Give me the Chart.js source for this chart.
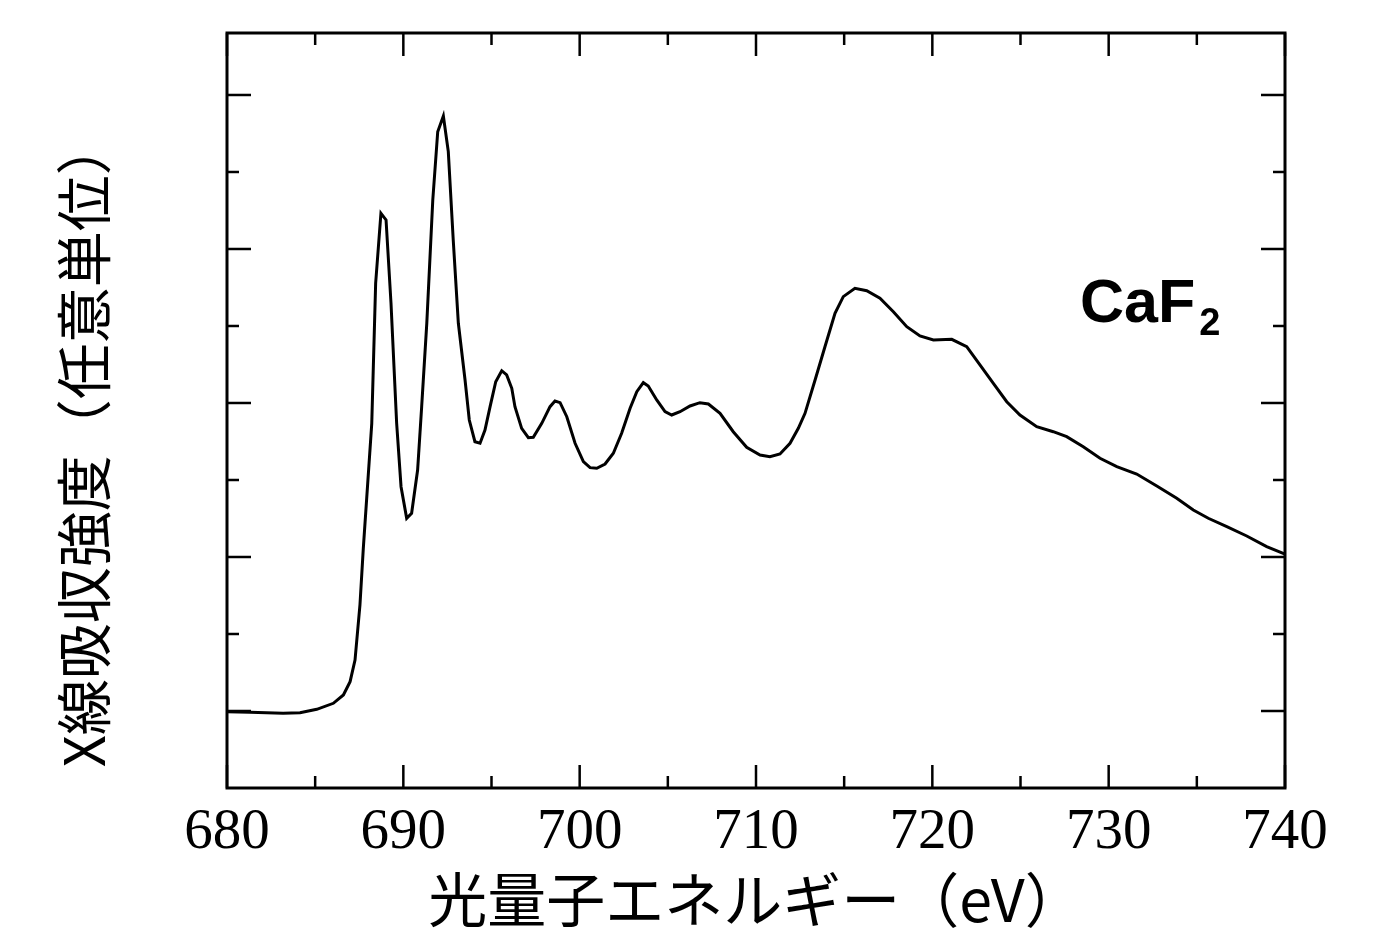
<!DOCTYPE html>
<html>
<head>
<meta charset="utf-8">
<script src="https://cdn.jsdelivr.net/npm/chart.js@4.4.1/dist/chart.umd.min.js"></script>
<style>
  html, body { margin: 0; padding: 0; background: #fff; }
  #wrap { width: 1387px; height: 935px; position: relative; }
</style>
</head>
<body>
<div id="wrap"><canvas id="c" width="1387" height="935"></canvas></div>
<script>
// Photon energy (eV)
const energy = [
  680.00, 681.30, 683.18, 684.14, 685.09, 686.03, 686.60, 686.98, 687.26, 687.54,
  687.73, 688.21, 688.43, 688.73, 689.02, 689.30, 689.62, 689.87, 690.19, 690.47,
  690.81, 691.04, 691.33, 691.67, 691.95, 692.27, 692.55, 692.83, 693.12, 693.50,
  693.74, 694.06, 694.35, 694.63, 694.92, 695.24, 695.58, 695.86, 696.15, 696.33,
  696.71, 697.09, 697.37, 697.85, 698.32, 698.60, 698.89, 699.27, 699.74, 700.21,
  700.59, 700.97, 701.44, 701.91, 702.38, 702.86, 703.24, 703.61, 703.89, 704.37,
  704.84, 705.22, 705.69, 706.26, 706.82, 707.30, 707.96, 708.71, 709.47, 710.23,
  710.79, 711.36, 711.93, 712.40, 712.78, 713.35, 713.91, 714.48, 714.95, 715.61,
  716.28, 717.03, 717.79, 718.55, 719.30, 720.06, 721.10, 721.95, 722.70, 723.46,
  724.22, 724.97, 725.92, 726.86, 727.62, 728.56, 729.51, 730.46, 731.59, 732.73,
  733.86, 734.80, 735.65, 736.70, 737.83, 738.96, 740.00
];
// X-ray absorption intensity (arbitrary units)
const intensity = [
  0.991, 0.983, 0.970, 0.978, 1.022, 1.100, 1.208, 1.381, 1.662, 2.377,
  3.113, 4.736, 6.555, 7.464, 7.377, 6.299, 4.740, 3.913, 3.503, 3.568,
  4.130, 4.952, 6.035, 7.636, 8.523, 8.727, 8.264, 7.117, 6.035, 5.299,
  4.779, 4.497, 4.477, 4.649, 4.952, 5.277, 5.419, 5.364, 5.191, 4.952,
  4.671, 4.549, 4.555, 4.736, 4.952, 5.026, 5.004, 4.822, 4.477, 4.238,
  4.160, 4.152, 4.208, 4.347, 4.606, 4.931, 5.147, 5.264, 5.221, 5.039,
  4.887, 4.844, 4.887, 4.961, 5.004, 4.987, 4.866, 4.627, 4.425, 4.325,
  4.303, 4.338, 4.477, 4.671, 4.866, 5.299, 5.731, 6.165, 6.381, 6.490,
  6.458, 6.360, 6.186, 5.991, 5.870, 5.818, 5.827, 5.731, 5.494, 5.256,
  5.017, 4.844, 4.692, 4.627, 4.562, 4.432, 4.282, 4.173, 4.078, 3.922,
  3.762, 3.610, 3.503, 3.394, 3.273, 3.134, 3.039
];
const xTickValues = [680, 690, 700, 710, 720, 730, 740];
const xMinorValues = [685, 695, 705, 715, 725, 735];
const yMajorValues = [1, 3, 5, 7, 9];
const yMinorValues = [2, 4, 6, 8];
const xTitle = '光量子エネルギー（eV）';
const yTitle = 'X線吸収強度（任意単位）';
const sampleName = 'CaF';
const sampleSub = '2';

const points = energy.map((e, i) => ({ x: e, y: intensity[i] }));

const frameTicks = {
  id: 'frameTicks',
  afterDraw(chart) {
    const { ctx, chartArea: a } = chart;
    const xs = chart.scales.x, ys = chart.scales.y;
    ctx.save();
    ctx.strokeStyle = '#000';
    ctx.lineWidth = 3;
    ctx.lineCap = 'butt';
    ctx.strokeRect(a.left, a.top, a.right - a.left, a.bottom - a.top);
    ctx.lineWidth = 2.5;
    const seg = (x1, y1, x2, y2) => { ctx.beginPath(); ctx.moveTo(x1, y1); ctx.lineTo(x2, y2); ctx.stroke(); };
    xTickValues.forEach(v => { const p = xs.getPixelForValue(v); seg(p, a.bottom, p, a.bottom - 23); seg(p, a.top, p, a.top + 23); });
    xMinorValues.forEach(v => { const p = xs.getPixelForValue(v); seg(p, a.bottom, p, a.bottom - 12); seg(p, a.top, p, a.top + 12); });
    yMajorValues.forEach(v => { const p = ys.getPixelForValue(v); seg(a.left, p, a.left + 24, p); seg(a.right, p, a.right - 24, p); });
    yMinorValues.forEach(v => { const p = ys.getPixelForValue(v); seg(a.left, p, a.left + 12, p); seg(a.right, p, a.right - 12, p); });
    // sample label
    ctx.fillStyle = '#000';
    ctx.textBaseline = 'alphabetic';
    ctx.textAlign = 'left';
    ctx.font = 'bold 61px "Liberation Sans", Arial, sans-serif';
    const lx = a.left + 853, ly = a.top + 289;
    ctx.fillText(sampleName, lx, ly);
    const w = ctx.measureText(sampleName).width;
    ctx.font = 'bold 38px "Liberation Sans", Arial, sans-serif';
    ctx.fillText(sampleSub, lx + w + 4, ly + 13);
    ctx.restore();
  }
};

new Chart(document.getElementById('c'), {
  type: 'line',
  data: {
    datasets: [{
      data: points,
      borderColor: '#000',
      borderWidth: 3,
      pointRadius: 0,
      tension: 0,
      fill: false
    }]
  },
  options: {
    responsive: false,
    animation: false,
    parsing: false,
    layout: { padding: { left: 0, top: 33, right: 102, bottom: 0 } },
    plugins: { legend: { display: false }, tooltip: { enabled: false } },
    scales: {
      x: {
        type: 'linear',
        min: 680, max: 740,
        afterFit: s => { s.height = 147; },
        afterBuildTicks: s => { s.ticks = xTickValues.map(v => ({ value: v })); },
        ticks: {
          color: '#000',
          padding: 11,
          font: { family: '"Liberation Serif", "Times New Roman", serif', size: 57 },
          maxRotation: 0
        },
        grid: { display: false, drawTicks: false },
        border: { display: false },
        title: {
          display: true,
          text: xTitle,
          color: '#000',
          font: { family: '"Noto Sans CJK JP", sans-serif', size: 59 },
          padding: { top: 0, bottom: 0 }
        }
      },
      y: {
        type: 'linear',
        min: 0, max: 9.805,
        afterFit: s => { s.width = 227; },
        ticks: { display: false },
        grid: { display: false, drawTicks: false },
        border: { display: false },
        title: {
          display: true,
          text: yTitle + '　   ',
          color: '#000',
          font: { family: '"Noto Sans CJK JP", sans-serif', size: 56 },
          padding: { top: 50, bottom: 0 }
        }
      }
    }
  },
  plugins: [frameTicks]
});
</script>
</body>
</html>
